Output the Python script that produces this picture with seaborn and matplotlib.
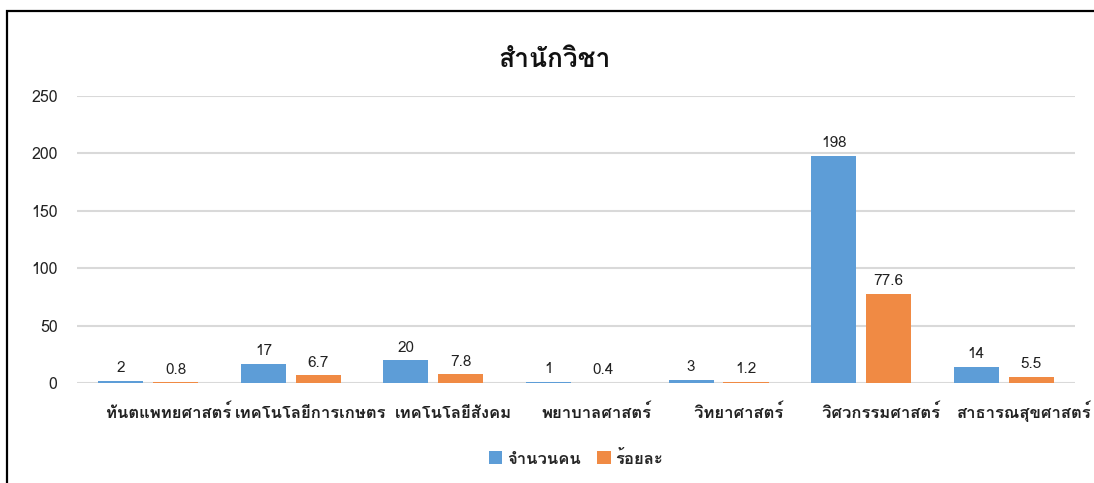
import matplotlib
matplotlib.use("Agg")
import matplotlib.pyplot as plt
import matplotlib.patches as patches
import matplotlib.transforms as mtransforms
import pandas as pd
import seaborn as sns

categories = ["ทันตแพทยศาสตร์", "เทคโนโลยีการเกษตร", "เทคโนโลยีสังคม", "พยาบาลศาสตร์",
              "วิทยาศาสตร์", "วิศวกรรมศาสตร์", "สาธารณสุขศาสตร์"]
counts = [2, 17, 20, 1, 3, 198, 14]
percents = [0.8, 6.7, 7.8, 0.4, 1.2, 77.6, 5.5]
series = ["จำนวนคน", "ร้อยละ"]
title = "สำนักวิชา"

df = pd.DataFrame({
    "cat": categories * 2,
    "val": counts + percents,
    "series": [series[0]] * len(categories) + [series[1]] * len(categories),
})

sns.set_style("white")
plt.rcParams['font.family'] = ['Loma', 'DejaVu Sans']

fig = plt.figure(figsize=(10.94, 4.83), dpi=100)
ax = fig.add_axes([0.0704, 0.207, 0.9122, 0.594])

sns.barplot(data=df, x="cat", y="val", hue="series", ax=ax,
            palette=["#5D9DD7", "#F08A44"], width=0.77, gap=0.18,
            saturation=1, linewidth=0, edgecolor="none", legend=True)

for cont in ax.containers:
    ax.bar_label(cont, fmt="%g", padding=4, fontsize=11, color="#222222")

ax.set_ylim(0, 250)
ax.set_yticks([0, 50, 100, 150, 200, 250])
ax.yaxis.grid(True, color="#d9d9d9", linewidth=1.5)
ax.set_axisbelow(True)
sns.despine(ax=ax, left=True, bottom=True)
ax.set_xlabel(None)
ax.set_ylabel(None)
ax.tick_params(axis="y", length=0, pad=14, labelsize=11.5, labelcolor="#222222")
ax.tick_params(axis="x", length=0, pad=25, labelsize=12, labelcolor="#222222")
# excel pushed the category labels a bit to the right
shift = mtransforms.ScaledTranslation(0.2, 0, fig.dpi_scale_trans)
for lbl in ax.get_xticklabels():
    lbl.set_fontweight("bold")
    lbl.set_verticalalignment("baseline")
    lbl.set_transform(lbl.get_transform() + shift)

fig.text(0.507, 0.876, title, fontsize=19, fontweight="bold", color="#111111",
         ha="center", va="center")

handles, labels = ax.get_legend_handles_labels()
leg = ax.legend(handles, labels, loc="upper center", bbox_to_anchor=(0.5, -0.18),
                ncol=2, frameon=False, fontsize=12, handlelength=0.8, handleheight=0.8,
                handletextpad=0.3, columnspacing=1.0)
for t in leg.get_texts():
    t.set_fontweight("bold")

# outer frame (partially cropped, like the screenshot)
fig.patches.append(patches.Rectangle((0.0064, -0.1), 1.2, 1.077, transform=fig.transFigure,
                                     fill=False, edgecolor="black", linewidth=1.6))

fig.savefig("out.png", dpi=100)
